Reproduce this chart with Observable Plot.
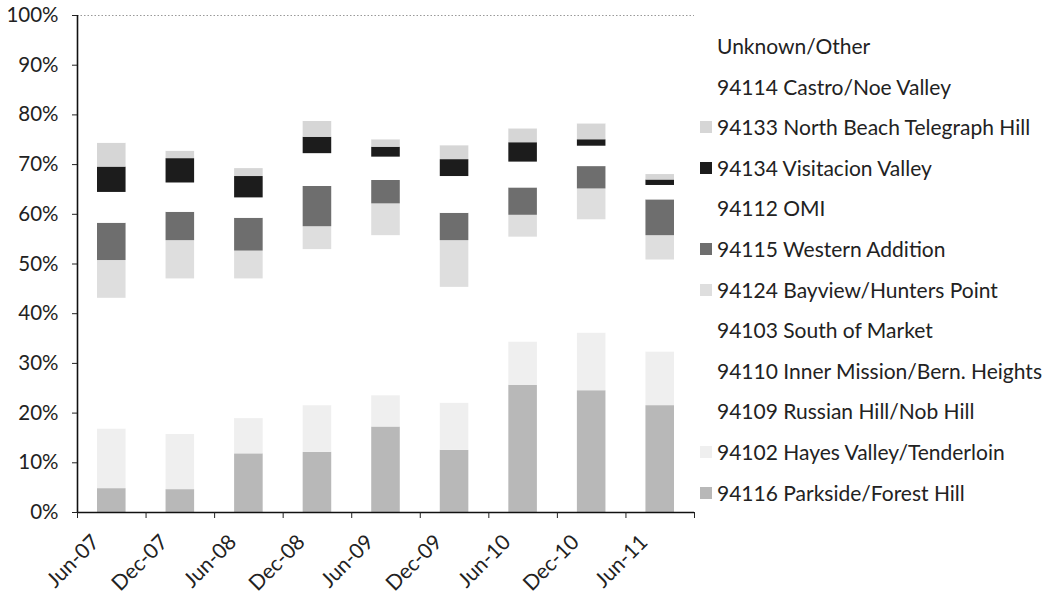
<!DOCTYPE html>
<html>
<head>
<meta charset="utf-8">
<script src="https://cdn.jsdelivr.net/npm/d3@7"></script>
<script src="https://cdn.jsdelivr.net/npm/@observablehq/plot@0.6"></script>
<style>
  html, body { margin: 0; padding: 0; background: #fff; }
  #wrap { position: relative; width: 1050px; height: 606px; font-family: Lato, "Open Sans", sans-serif; }
  #legend { position: absolute; left: 700px; top: 26px; font-size: 21px; color: #222; }
  .item { height: 40.6px; line-height: 40.6px; white-space: nowrap; display: flex; align-items: center; }
  .sw { width: 12px; height: 12px; margin-right: 5px; flex: none; }
</style>
</head>
<body>
<div id="wrap"></div>
<script>
// Periods (x categories)
const periods = ["Jun-07","Dec-07","Jun-08","Dec-08","Jun-09","Dec-09","Jun-10","Dec-10","Jun-11"];

// Series in stacking order (bottom to top), values in percent
const seriesNames = [
  "94116 Parkside/Forest Hill",
  "94102 Hayes Valley/Tenderloin",
  "94109 Russian Hill/Nob Hill",
  "94110 Inner Mission/Bern. Heights",
  "94103 South of Market",
  "94124 Bayview/Hunters Point",
  "94115 Western Addition",
  "94112 OMI",
  "94134 Visitacion Valley",
  "94133 North Beach Telegraph Hill",
  "94114 Castro/Noe Valley",
  "Unknown/Other"
];
const parkside   = [4.8, 4.6, 11.8, 12.1, 17.2, 12.5, 25.6, 24.5, 21.5];
const hayes      = [12.0, 11.1, 7.1, 9.4, 6.3, 9.5, 8.7, 11.6, 10.8];
const russian    = [6.5, 8.0, 7.0, 8.0, 8.5, 6.0, 5.5, 6.0, 4.5];
const mission    = [13.0, 15.5, 14.0, 15.5, 15.5, 11.5, 10.5, 11.0, 9.0];
const soma       = [6.8, 7.8, 7.1, 7.9, 8.2, 5.8, 5.1, 5.8, 5.0];
const bayview    = [7.6, 7.7, 5.6, 4.6, 6.4, 9.4, 4.4, 6.2, 4.9];
const western    = [7.5, 5.7, 6.6, 8.1, 4.7, 5.5, 5.5, 4.5, 7.2];
const omi        = [6.2, 5.9, 4.1, 6.6, 4.7, 7.4, 5.2, 4.1, 2.9];
const visitacion = [5.1, 4.9, 4.3, 3.3, 2.0, 3.4, 3.9, 1.3, 1.1];
const northBeach = [4.8, 1.5, 1.6, 3.2, 1.5, 2.8, 2.8, 3.2, 1.1];
const castro     = [12.0, 13.0, 14.5, 10.0, 12.0, 12.5, 11.0, 10.5, 15.0];
const unknown    = [13.7, 14.3, 16.3, 11.3, 13.0, 13.7, 11.8, 11.3, 17.0];

const seriesValues = [parkside, hayes, russian, mission, soma, bayview, western, omi, visitacion, northBeach, castro, unknown];
const seriesColors = ["#b8b8b8", "#efefef", "#ffffff", "#ffffff", "#ffffff", "#dedede", "#6e6e6e", "#ffffff", "#1c1c1c", "#d6d6d6", "#ffffff", "#ffffff"];

const yTicks = d3.range(0, 1.0001, 0.1);

// build stacked table
const rows = [];
periods.forEach((p, i) => {
  let acc = 0;
  seriesNames.forEach((s, k) => {
    const v = seriesValues[k][i] / 100;
    rows.push({period: p, idx: i, series: s, y1: acc, y2: acc + v, color: seriesColors[k]});
    acc += v;
  });
});

const chart = Plot.plot({
  width: 1050,
  height: 606,
  marginTop: 15,
  marginBottom: 94,
  marginLeft: 77,
  marginRight: 356,
  style: {fontFamily: "Lato, 'Open Sans', sans-serif", fontSize: "20px", color: "#222", background: "white"},
  x: {domain: [0, periods.length], axis: null},
  y: {domain: [0, 1], axis: null},
  marks: [
    Plot.rect(rows, {x1: "idx", x2: d => d.idx + 1, y1: "y1", y2: "y2", fill: "color", insetLeft: 20, insetRight: 20}),
    Plot.ruleY([1], {stroke: "#999", strokeDasharray: "1.5,2", strokeWidth: 1}),
    Plot.ruleX([0], {stroke: "#111", strokeWidth: 1.6}),
    Plot.ruleY([0], {stroke: "#111", strokeWidth: 1.6}),
    Plot.axisY({ticks: yTicks, tickFormat: d3.format(".0%"), tickSize: 5, tickPadding: 14, label: null, fontSize: 20.5}),
    Plot.axisX({ticks: d3.range(0, periods.length + 1), tickFormat: () => "", tickSize: 6, label: null}),
    Plot.text(periods, {x: (d, i) => i + 0.5, y: 0, text: d => d, rotate: -45, textAnchor: "end", dx: -16, dy: 26, fontSize: 21, fill: "#222"})
  ]
});

const wrap = document.getElementById("wrap");
wrap.appendChild(chart);

// legend (reverse of stack order)
const legend = document.createElement("div");
legend.id = "legend";
for (let k = seriesNames.length - 1; k >= 0; k--) {
  const item = document.createElement("div");
  item.className = "item";
  const sw = document.createElement("span");
  sw.className = "sw";
  sw.style.background = seriesColors[k];
  const tx = document.createElement("span");
  tx.textContent = seriesNames[k];
  item.appendChild(sw);
  item.appendChild(tx);
  legend.appendChild(item);
}
wrap.appendChild(legend);
</script>
</body>
</html>
